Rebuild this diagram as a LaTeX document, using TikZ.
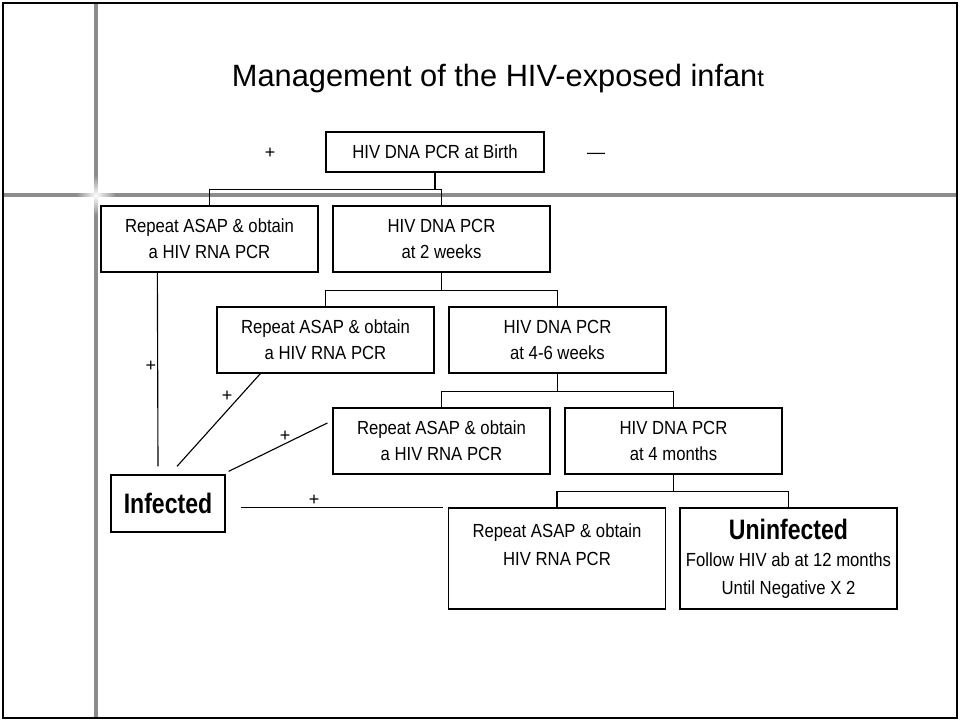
\documentclass[tikz,border=0pt]{standalone}
\usepackage{fontspec}
\setmainfont{Liberation Sans}
\newfontfamily\narrowfont{Liberation Sans}[FakeStretch=0.82]
\newfontfamily\boxfont{Liberation Sans}[FakeStretch=0.88]
\usetikzlibrary{positioning, fadings}

\tikzfading[name=glow, inner color=transparent!0, outer color=transparent!100]

\tikzset{
    stepbox/.style={draw, line width=0.9pt, fill=white, align=center,
        minimum width=5.425cm, minimum height=1.65cm,
        font={\boxfont\fontsize{13.5}{18.5}\selectfont}},
    tallbox/.style={stepbox, minimum height=2.525cm,
        font={\boxfont\fontsize{13.5}{19.5}\selectfont}},
    sign/.style={font={\fontsize{12.8}{15}\selectfont}, inner sep=0pt},
    link/.style={line width=0.8pt},
}

\begin{document}
\begin{tikzpicture}
    \useasboundingbox (0,0) rectangle (24,18.025);

    % slide frame and rules
    \draw[line width=2.8pt, gray!90] (2.4,0.075) -- (2.4,17.95);
    \draw[line width=2.8pt, gray!90] (0.075,13.14) -- (23.925,13.14);
    \fill[white, path fading=glow] (2.4,13.14) circle (0.5);
    \draw[line width=1.4pt] (0.075,0.075) rectangle (23.925,17.95);

    \node[anchor=base, font={\fontsize{21.9}{26}\selectfont}] (title) at (12.45,15.85)
        {Management of the HIV-exposed infan{\fontsize{17}{20}\selectfont t}};

    % tests
    \node[stepbox, minimum width=5.45cm, minimum height=1cm] (birth) at (10.875,14.225) {HIV DNA PCR at Birth};
    \node[stepbox] (rep2) at (5.2375,12.05) {Repeat ASAP \& obtain\\a HIV RNA PCR};
    \node[stepbox] (dna2) at (11.0375,12.05) {HIV DNA PCR\\at 2 weeks};
    \node[stepbox] (rep3) at (8.1375,9.525) {Repeat ASAP \& obtain\\a HIV RNA PCR};
    \node[stepbox] (dna3) at (13.9375,9.525) {HIV DNA PCR\\at 4-6 weeks};
    \node[stepbox] (rep4) at (11.0375,7.0) {Repeat ASAP \& obtain\\a HIV RNA PCR};
    \node[stepbox] (dna4) at (16.8375,7.0) {HIV DNA PCR\\at 4 months};
    \node[tallbox] (rep5) at (13.925,4.0625)
        {Repeat ASAP \& obtain\\HIV RNA PCR\\\mbox{}};
    \node[tallbox] (uninf) at (19.7125,4.0625)
        {{\narrowfont\bfseries\fontsize{20}{19.5}\selectfont Uninfected}\\Follow HIV ab at 12 months\\Until Negative X 2};
    \node[draw, line width=0.9pt, minimum width=2.85cm, minimum height=1.425cm] (inf) at (4.2,5.4375)
        {\narrowfont\bfseries\fontsize{20}{24}\selectfont Infected};

    % tree links
    \draw[link] (birth.south) -- ++(0,-0.425) -| (rep2.north);
    \draw[link] (birth.south) -- ++(0,-0.425) -| (dna2.north);
    \draw[link] (dna2.south) -- ++(0,-0.44) -| (rep3.north);
    \draw[link] (dna2.south) -- ++(0,-0.44) -| (dna3.north);
    \draw[link] (dna3.south) -- ++(0,-0.44) -| (rep4.north);
    \draw[link] (dna3.south) -- ++(0,-0.44) -| (dna4.north);
    \draw[link] (dna4.south) -- ++(0,-0.42) -| (rep5.north);
    \draw[link] (dna4.south) -- ++(0,-0.42) -| (uninf.north);

    % positive results
    \draw[link] ([xshift=1.425cm]rep2.south west) -- ([xshift=-0.25cm, yshift=0.2cm]inf.north);
    \draw[link] ([xshift=1.1cm]rep3.south west) -- ([xshift=0.225cm, yshift=0.2cm]inf.north);
    \draw[link] ([xshift=-0.125cm, yshift=0.45cm]rep4.west) -- ([xshift=0.075cm, yshift=0.075cm]inf.north east);
    \draw[link, shorten <=0.375cm, shorten >=0.125cm] (inf.east |- rep5.north west) -- (rep5.north west);

    \node[sign] (pos0) at (6.75,14.2) {+};
    \node[sign] (neg0) at (14.9,14.125) {\textemdash};
    \node[sign] (pos1) at (3.775,8.875) {+};
    \node[sign] (pos2) at (5.675,8.125) {+};
    \node[sign] (pos3) at (7.125,7.125) {+};
    \node[sign] (pos4) at (7.85,5.525) {+};
\end{tikzpicture}
\end{document}
